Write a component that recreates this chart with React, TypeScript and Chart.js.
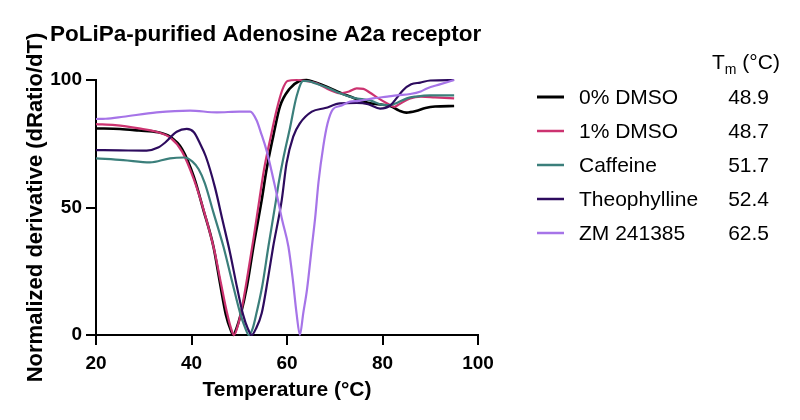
import React, { useEffect, useRef } from "react";
import { Chart, registerables } from "chart.js";

Chart.register(...registerables);

const FONT = "'Liberation Sans', Arial, Helvetica, sans-serif";

const titleText = "PoLiPa-purified Adenosine A2a receptor";
const xAxisTitle = "Temperature (°C)";
const yAxisTitle = "Normalized derivative (dRatio/dT)";
const seriesNames = ["0% DMSO", "1% DMSO", "Caffeine", "Theophylline", "ZM 241385"];
const tmValues = ["48.9", "48.7", "51.7", "52.4", "62.5"];
const seriesColors = ["#000000", "#cc3370", "#3b7f7b", "#2d0b5e", "#a674e8"];
const seriesWidths = [2.6, 2.2, 2.2, 2.2, 2.2];

const dmso0T = [20, 25, 29, 33, 35.5, 38, 40.5, 42.5, 44.6, 46, 47.2, 48.2, 48.75, 49.4, 50.3, 51.6, 53, 54.7, 55.7, 57.1, 58.5, 60.6, 62.5, 64.1, 66, 68.3, 70.5, 73.2, 77.4, 80, 81.6, 83.5, 85, 87, 89, 91, 95];
const dmso0Y = [81, 80.8, 80.2, 79.5, 77.8, 73, 62, 49, 34.6, 20, 8, 2, 0, 2.5, 8, 19, 35, 52.9, 64.7, 77.8, 89.5, 96.7, 99.5, 100, 99, 97.4, 95.5, 93.5, 90.9, 90.3, 89.8, 88, 87.2, 87.8, 89, 89.6, 89.8];

const dmso1T = [20, 24, 29, 33, 35.5, 38, 40.5, 42.7, 44.8, 46.2, 47.4, 48.3, 48.9, 49.6, 50.5, 51.8, 53, 54.2, 55.2, 56.6, 57.8, 59, 60.1, 62, 64, 66.2, 68.5, 71.1, 73, 74.6, 76, 77.4, 79, 80.9, 82.5, 83.5, 85.8, 88, 91, 95];
const dmso1Y = [82.7, 82.3, 81, 79.5, 77.5, 72, 61, 48, 33, 20, 9, 2.5, 0, 3, 10, 24, 38, 52.9, 65, 77.8, 88, 96, 99.6, 100, 99.6, 98.7, 96.5, 94.8, 95.5, 96.7, 96.5, 95, 93, 90.9, 89.5, 90.5, 92.8, 93.5, 93.2, 92.8];

const caffeineT = [20, 25.7, 31.3, 35.5, 38.5, 40.2, 41.5, 42.8, 44.6, 46.7, 48.5, 50.2, 51.2, 52, 52.8, 53.6, 54.8, 56.1, 57.7, 58.2, 59.2, 60.6, 62, 63.4, 64.5, 66.2, 68.5, 71.1, 74, 77.4, 80.2, 81.6, 83, 85.1, 87, 90, 95];
const caffeineY = [69.3, 68.6, 67.7, 69.3, 69.6, 68, 65, 59.5, 48, 34.6, 21, 8.5, 3, 0, 2.5, 8.5, 19, 34.6, 52.9, 59, 69, 81, 93.5, 99.6, 99.5, 98.5, 97, 94.8, 93, 92, 90.2, 90.2, 91, 92.8, 93.5, 94, 94];

const theophyllineT = [20, 25, 30.6, 33, 34.5, 36.9, 39, 40.5, 41.8, 43, 44.9, 46.5, 48.1, 49.5, 50.8, 51.8, 52.6, 53.5, 54.7, 56, 57.1, 58.9, 59.9, 61.3, 62.7, 65.2, 68, 71.1, 74.6, 77, 79.5, 81.6, 83, 84.3, 86, 87.9, 90, 95];
const theophyllineY = [72.5, 72.4, 72.3, 73.5, 75.5, 79.7, 80.8, 79.5, 75, 70, 58, 45, 32, 19, 8, 2.5, 0, 2.5, 8.5, 22, 34.6, 52.9, 67.3, 77.8, 83, 87.6, 89, 90.8, 91, 90.5, 88.8, 90, 93, 96, 98.3, 99, 99.8, 100];

const zmT = [20, 22, 25.7, 32.7, 39.7, 45.3, 50, 52.3, 53.6, 54.6, 55.7, 57.8, 59, 60.3, 61.2, 62, 62.7, 63.4, 64.2, 65.2, 65.9, 66.6, 67.6, 68.5, 69.6, 71.1, 73.2, 75, 78, 81, 83, 85.8, 88, 89.3, 92, 95];
const zmY = [84.7, 84.8, 85.6, 87.3, 88, 87.3, 87.6, 87.6, 84.3, 79, 72.5, 55.6, 45, 34.6, 22, 8.5, 0, 8.5, 18, 34.6, 46, 60, 74, 83, 88.5, 89.8, 91.5, 91.8, 92.8, 93.5, 94, 94.5, 95.5, 96.7, 98.3, 100];

const xTicks = [20, 40, 60, 80, 100];
const yTicks = [0, 50, 100];

const seriesT = [dmso0T, dmso1T, caffeineT, theophyllineT, zmT];
const seriesY = [dmso0Y, dmso1Y, caffeineY, theophyllineY, zmY];

const legendPlugin = {
  id: "customLegendTitle",
  afterDraw(chart: any) {
    const ctx = chart.ctx;
    ctx.save();
    // Title
    ctx.fillStyle = "#000";
    ctx.font = `bold 22.5px ${FONT}`;
    ctx.textAlign = "left";
    ctx.textBaseline = "alphabetic";
    ctx.fillText(titleText, 50, 41);

    // Tm header
    ctx.font = `21px ${FONT}`;
    ctx.fillText("T", 712, 69);
    const tW = ctx.measureText("T").width;
    ctx.font = `14px ${FONT}`;
    ctx.fillText("m", 712 + tW, 74);
    const mW = ctx.measureText("m").width;
    ctx.font = `21px ${FONT}`;
    ctx.fillText(" (°C)", 712 + tW + mW, 69);

    // Rows
    const rowY = [97, 131, 165, 199, 233];
    for (let i = 0; i < seriesNames.length; i++) {
      const y = rowY[i];
      ctx.strokeStyle = seriesColors[i];
      ctx.lineWidth = i === 0 ? 3 : 2.5;
      ctx.beginPath();
      ctx.moveTo(537, y);
      ctx.lineTo(564, y);
      ctx.stroke();
      ctx.fillStyle = "#000";
      ctx.font = `21px ${FONT}`;
      ctx.textBaseline = "middle";
      ctx.textAlign = "left";
      ctx.fillText(seriesNames[i], 579, y + 1);
      ctx.textAlign = "right";
      ctx.fillText(tmValues[i], 769, y + 1);
    }
    ctx.restore();
  },
};

export default function App() {
  const canvasRef = useRef<HTMLCanvasElement | null>(null);

  useEffect(() => {
    const canvas = canvasRef.current;
    if (!canvas) return;
    const order = [4, 3, 2, 1, 0];
    const datasets = order.map((i) => ({
      label: seriesNames[i],
      data: seriesT[i].map((t, k) => ({ x: t, y: seriesY[i][k] })),
      borderColor: seriesColors[i],
      backgroundColor: seriesColors[i],
      borderWidth: seriesWidths[i],
      pointRadius: 0,
      cubicInterpolationMode: "monotone" as const,
      fill: false,
      clip: false as any,
    }));

    const chart = new Chart(canvas, {
      type: "line",
      data: { datasets },
      plugins: [legendPlugin],
      options: {
        animation: false,
        responsive: false,
        maintainAspectRatio: false,
        layout: { padding: { left: 0, top: 80, right: 322, bottom: 0 } },
        plugins: {
          legend: { display: false },
          tooltip: { enabled: false },
          title: { display: false },
        },
        scales: {
          x: {
            type: "linear",
            min: 20,
            max: 100,
            afterBuildTicks: (scale: any) => {
              scale.ticks = xTicks.map((v) => ({ value: v }));
            },
            afterFit: (scale: any) => {
              scale.height = 85;
            },
            ticks: {
              color: "#000",
              padding: 7,
              font: { family: FONT, size: 19, weight: "bold" },
              maxRotation: 0,
              autoSkip: false,
            },
            grid: {
              display: true,
              drawOnChartArea: false,
              drawTicks: true,
              tickLength: 10,
              color: "#000",
              lineWidth: 2,
            },
            border: { display: true, color: "#000", width: 2 },
            title: {
              display: true,
              text: xAxisTitle,
              color: "#000",
              font: { family: FONT, size: 21, weight: "bold" },
              padding: { top: 0, bottom: 17 },
            },
          },
          y: {
            type: "linear",
            min: 0,
            max: 100,
            afterBuildTicks: (scale: any) => {
              scale.ticks = yTicks.map((v) => ({ value: v }));
            },
            afterFit: (scale: any) => {
              scale.width = 96;
            },
            ticks: {
              color: "#000",
              padding: 4,
              font: { family: FONT, size: 19, weight: "bold" },
            },
            grid: {
              display: true,
              drawOnChartArea: false,
              drawTicks: true,
              tickLength: 10,
              color: "#000",
              lineWidth: 2,
            },
            border: { display: true, color: "#000", width: 2 },
            title: {
              display: true,
              text: yAxisTitle,
              color: "#000",
              font: { family: FONT, size: 22, weight: "bold" },
              padding: { top: 23, bottom: 0 },
            },
          },
        },
      },
    });
    return () => chart.destroy();
  }, []);

  return (
    <div style={{ position: "absolute", left: 0, top: 0, width: 800, height: 420, background: "#fff" }}>
      <canvas ref={canvasRef} width={800} height={420} style={{ width: 800, height: 420, display: "block" }} />
    </div>
  );
}
